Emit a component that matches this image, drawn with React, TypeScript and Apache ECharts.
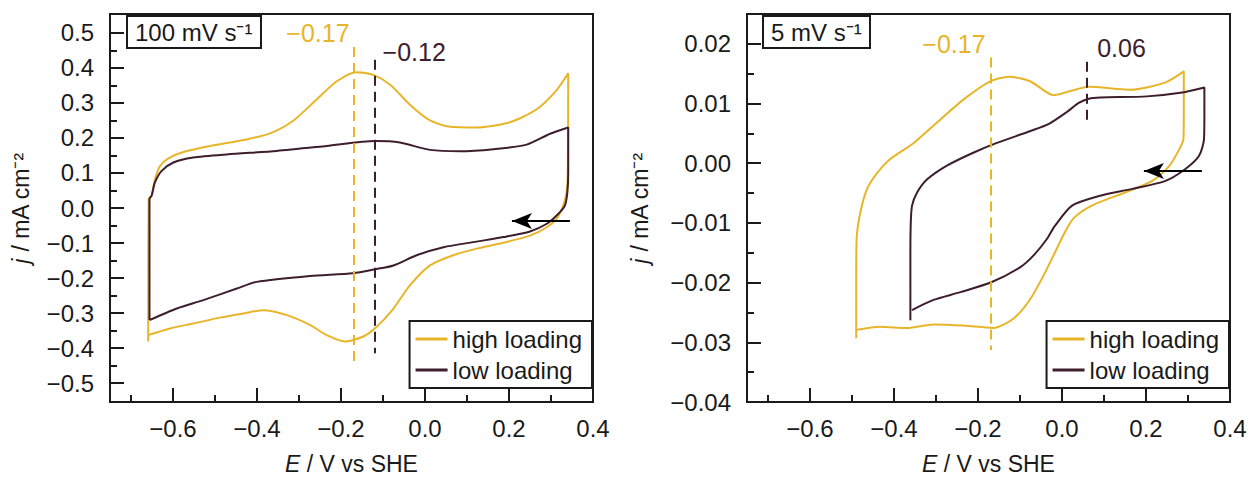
import React, { useEffect, useRef } from "react";
import * as echarts from "echarts";

// ---------- data ----------
const highLoading100: number[][] = [
  [-0.659, -0.381], [-0.659, -0.3], [-0.658, 0.026], [-0.651, 0.035], [-0.643, 0.082], [-0.631, 0.12],
  [-0.611, 0.142], [-0.575, 0.16], [-0.512, 0.177], [-0.432, 0.194], [-0.369, 0.213], [-0.313, 0.25],
  [-0.258, 0.31], [-0.21, 0.362], [-0.163, 0.388], [-0.123, 0.38], [-0.083, 0.352], [-0.036, 0.295],
  [0.012, 0.25], [0.06, 0.232], [0.123, 0.23], [0.202, 0.245], [0.266, 0.282], [0.313, 0.336],
  [0.341, 0.385], [0.34, 0.1], [0.337, 0.045], [0.329, 0.007], [0.313, -0.031], [0.29, -0.055],
  [0.25, -0.079], [0.187, -0.099], [0.123, -0.116], [0.067, -0.135], [0.012, -0.164], [-0.036, -0.221],
  [-0.075, -0.287], [-0.115, -0.339], [-0.147, -0.367], [-0.19, -0.381], [-0.234, -0.363], [-0.274, -0.334],
  [-0.329, -0.306], [-0.385, -0.292], [-0.432, -0.301], [-0.488, -0.313], [-0.552, -0.33], [-0.607, -0.344],
  [-0.659, -0.363],
];
const lowLoading100: number[][] = [
  [-0.656, -0.32], [-0.656, 0.026], [-0.651, 0.035], [-0.643, 0.073], [-0.627, 0.106], [-0.599, 0.13],
  [-0.552, 0.144], [-0.472, 0.153], [-0.353, 0.163], [-0.234, 0.177], [-0.119, 0.191], [-0.06, 0.187],
  [0.012, 0.166], [0.083, 0.162], [0.163, 0.168], [0.242, 0.181], [0.298, 0.212], [0.341, 0.23],
  [0.341, 0.1], [0.339, 0.045], [0.333, 0.007], [0.317, -0.017], [0.29, -0.045], [0.25, -0.067],
  [0.187, -0.083], [0.123, -0.096], [0.044, -0.112], [-0.02, -0.135], [-0.075, -0.164], [-0.119, -0.175],
  [-0.171, -0.186], [-0.274, -0.194], [-0.401, -0.211], [-0.448, -0.23], [-0.528, -0.263], [-0.591, -0.287],
  [-0.656, -0.32],
];
const highLoading5: number[][] = [
  [-0.49, -0.0293], [-0.49, -0.02], [-0.489, -0.0127], [-0.48, -0.0082], [-0.464, -0.0043], [-0.44, -0.0016],
  [-0.409, 0.0007], [-0.353, 0.0034], [-0.29, 0.0073], [-0.234, 0.0107], [-0.171, 0.0137], [-0.126, 0.0145],
  [-0.075, 0.0137], [-0.02, 0.0114], [0.02, 0.0121], [0.064, 0.0128], [0.163, 0.0123], [0.245, 0.0135],
  [0.29, 0.0154], [0.29, 0.008], [0.289, 0.004], [0.279, 0.0023], [0.255, -0.0005], [0.214, -0.003],
  [0.15, -0.0049], [0.071, -0.0071], [0.028, -0.0092], [0.005, -0.0118], [-0.036, -0.0177], [-0.075, -0.0227],
  [-0.115, -0.026], [-0.163, -0.0276], [-0.234, -0.0272], [-0.306, -0.027], [-0.369, -0.0276], [-0.433, -0.0274],
  [-0.488, -0.0279],
];
const lowLoading5: number[][] = [
  [-0.361, -0.0263], [-0.361, -0.015], [-0.36, -0.0099], [-0.357, -0.0071], [-0.345, -0.0049], [-0.321, -0.0027],
  [-0.274, -0.0004], [-0.21, 0.0018], [-0.155, 0.0034], [-0.075, 0.0054], [-0.031, 0.0066], [0.01, 0.0085],
  [0.04, 0.0101], [0.064, 0.0108], [0.091, 0.011], [0.202, 0.0112], [0.282, 0.0118], [0.339, 0.0127],
  [0.339, 0.008], [0.338, 0.004], [0.326, 0.0012], [0.293, -0.001], [0.245, -0.003], [0.167, -0.0043],
  [0.088, -0.0055], [0.024, -0.0071], [-0.017, -0.0105], [-0.036, -0.0127], [-0.067, -0.0154], [-0.099, -0.0174],
  [-0.167, -0.0199], [-0.242, -0.0216], [-0.306, -0.0229], [-0.357, -0.0246],
];

// peak markers: [E, top j, bottom j, label j]
const peakHigh100 = [-0.17, 0.46, -0.437, 0.5];
const peakLow100 = [-0.12, 0.423, -0.415, 0.446];
const peakHigh5 = [-0.17, 0.0177, -0.0313, 0.02];
const peakLow5 = [0.06, 0.017, 0.007, 0.0193];
// scan direction arrows: [E start, E end, j]
const arrow100 = [0.345, 0.207, -0.037];
const arrow5 = [0.333, 0.195, -0.0013];

// axis ticks
const xMajorTicks = [-0.6, -0.4, -0.2, 0, 0.2, 0.4];
const xMinorTicks = [-0.7, -0.5, -0.3, -0.1, 0.1, 0.3];
const yMajor100 = [-0.5, -0.4, -0.3, -0.2, -0.1, 0, 0.1, 0.2, 0.3, 0.4, 0.5];
const yMinor100 = [-0.45, -0.35, -0.25, -0.15, -0.05, 0.05, 0.15, 0.25, 0.35, 0.45];
const yMajor5 = [-0.04, -0.03, -0.02, -0.01, 0, 0.01, 0.02];
const yMinor5 = [-0.035, -0.025, -0.015, -0.005, 0.005, 0.015];

const seriesNames = ["high loading", "low loading"];
const panelLabels = ["100 mV s⁻¹", "5 mV s⁻¹"];

// ---------- styles ----------
const YELLOW = "#E8B52A";
const DARK = "#3E1E2C";
const INK = "#1a1a1a";
const FONT = "'Liberation Sans', Arial, Helvetica, sans-serif";

const fmt = (d: number) => (v: number) => v.toFixed(d).replace("-", "−");

function makeAxes(gridIndex: number, kind: "x" | "y", range: number[], major: number[], minor: number[], digits: number, name: string, nameGap: number) {
  const common: any = {
    type: "value",
    gridIndex,
    min: range[0],
    max: range[1],
    position: kind === "x" ? "bottom" : "left",
    splitLine: { show: false },
    axisLine: { onZero: false, lineStyle: { color: INK, width: 2 } },
  };
  const main = {
    ...common,
    axisTick: { inside: true, length: 14, customValues: major, lineStyle: { color: INK, width: 2 } },
    axisLabel: {
      customValues: major,
      formatter: fmt(digits),
      fontSize: 24,
      color: INK,
      fontFamily: FONT,
      margin: kind === "x" ? 14 : 16,
    },
    name,
    nameLocation: "middle",
    nameGap,
    nameTextStyle: {
      fontSize: 23,
      color: INK,
      fontFamily: FONT,
      rich: { i: { fontStyle: "italic", fontSize: 23, color: INK, fontFamily: FONT } },
    },
  };
  const minorAxis = {
    ...common,
    axisTick: { inside: true, length: 7, customValues: minor, lineStyle: { color: INK, width: 2 } },
    axisLabel: { show: false, customValues: minor },
  };
  return [main, minorAxis];
}

function peakMarks(p: number[], color: string, side: "left" | "right", distance: number) {
  return {
    markLine: {
      silent: true,
      symbol: "none",
      label: { show: false },
      lineStyle: { type: [10, 6], width: 2, color },
      data: [[{ coord: [p[0], p[1]] }, { coord: [p[0], p[2]] }]],
    },
    markPoint: {
      silent: true,
      data: [
        {
          coord: [p[0], p[3]],
          symbolSize: 0,
          label: {
            show: true,
            position: side,
            distance,
            formatter: fmt(2)(p[0]),
            color,
            fontSize: 25,
            fontFamily: FONT,
          },
        },
      ],
    },
  };
}

function arrowLine(a: number[]) {
  return [
    { coord: [a[0], a[2]], symbol: "none", lineStyle: { type: "solid", color: "#000", width: 2 } },
    { coord: [a[1], a[2]], symbol: "arrow", symbolSize: [12, 20] },
  ];
}

export default function App() {
  const ref = useRef<HTMLDivElement>(null);
  useEffect(() => {
    if (!ref.current) return;
    const chart = echarts.init(ref.current, null, { renderer: "svg" });

    const xName = "{i|E} / V vs SHE";
    const yName = "{i|j} / mA cm⁻²";
    const [x0, x0m] = makeAxes(0, "x", [-0.75, 0.4], xMajorTicks, xMinorTicks, 1, xName, 50);
    const [x1, x1m] = makeAxes(1, "x", [-0.75, 0.4], xMajorTicks, xMinorTicks, 1, xName, 50);
    const [y0, y0m] = makeAxes(0, "y", [-0.554, 0.554], yMajor100, yMinor100, 1, yName, 78);
    const [y1, y1m] = makeAxes(1, "y", [-0.04, 0.025], yMajor5, yMinor5, 2, yName, 96);

    const lineSeries = (name: string, data: number[][], color: string, axis: number, extra: any) => ({
      type: "line",
      name,
      data,
      xAxisIndex: axis,
      yAxisIndex: axis,
      symbol: "none",
      showSymbol: false,
      smooth: 0.25,
      lineStyle: { color, width: 2 },
      itemStyle: { color },
      ...extra,
    });

    const dark100 = peakMarks(peakLow100, DARK, "right", 8);
    (dark100.markLine as any).data.push(arrowLine(arrow100));
    const dark5 = peakMarks(peakLow5, DARK, "right", 10);
    (dark5.markLine as any).data.push(arrowLine(arrow5));

    const legendBase = {
      data: seriesNames,
      orient: "vertical",
      bottom: 92,
      borderColor: INK,
      borderWidth: 2,
      padding: [6, 10, 6, 6],
      itemGap: 7,
      itemWidth: 32,
      itemHeight: 3,
      icon: "rect",
      selectedMode: false,
      textStyle: { fontSize: 24, color: INK, fontFamily: FONT },
    };
    const titleBase = {
      top: 16,
      borderColor: INK,
      borderWidth: 2,
      padding: [4, 9, 4, 8],
      textStyle: { fontSize: 24, fontWeight: "normal", color: INK, fontFamily: FONT },
    };

    chart.setOption({
      animation: false,
      backgroundColor: "#fff",
      textStyle: { fontFamily: FONT },
      title: [
        { ...titleBase, text: panelLabels[0], left: 127 },
        { ...titleBase, text: panelLabels[1], left: 763 },
      ],
      legend: [
        { ...legendBase, right: 660 },
        { ...legendBase, right: 23 },
      ],
      grid: [
        { left: 110, top: 14, width: 483, height: 390, show: true, borderColor: INK, borderWidth: 2 },
        { left: 747, top: 14, width: 483, height: 390, show: true, borderColor: INK, borderWidth: 2 },
      ],
      xAxis: [x0, x0m, x1, x1m],
      yAxis: [y0, y0m, y1, y1m],
      series: [
        lineSeries(seriesNames[0], highLoading100, YELLOW, 0, peakMarks(peakHigh100, YELLOW, "left", 4)),
        lineSeries(seriesNames[1], lowLoading100, DARK, 0, dark100),
        lineSeries(seriesNames[0], highLoading5, YELLOW, 2, peakMarks(peakHigh5, YELLOW, "left", 5)),
        lineSeries(seriesNames[1], lowLoading5, DARK, 2, dark5),
      ],
    });
    return () => chart.dispose();
  }, []);
  return (
    <div
      ref={ref}
      style={{ position: "absolute", left: 0, top: 0, width: 1252, height: 480 }}
    />
  );
}
